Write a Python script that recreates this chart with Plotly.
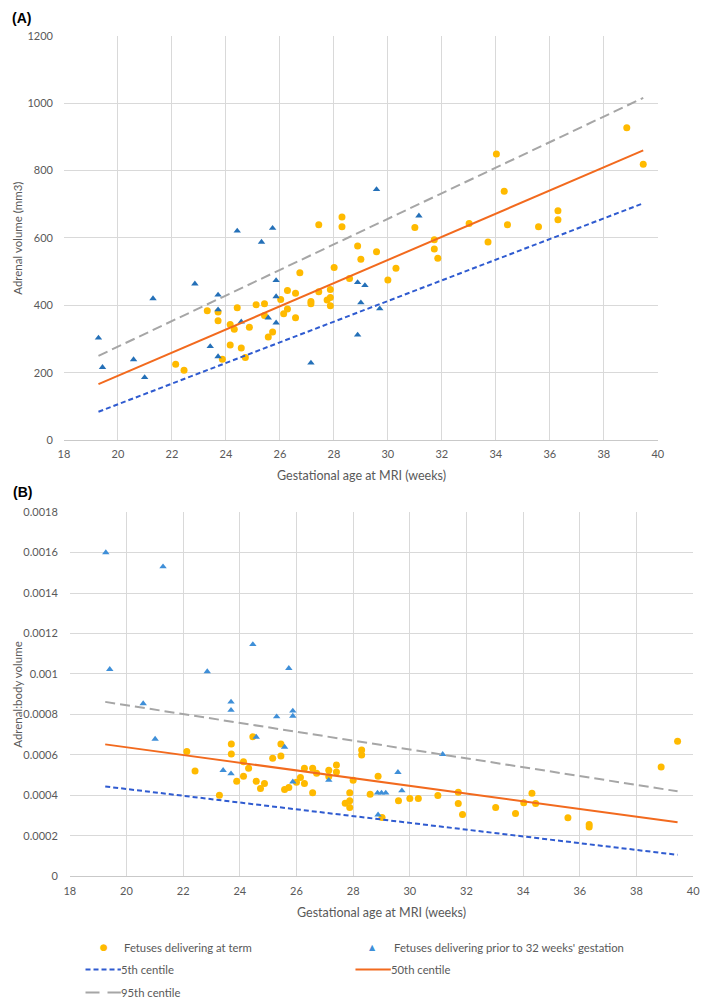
import plotly.graph_objects as go

# ---------------- data ----------------
# Panel A: adrenal volume (mm3)
a_term_x = [22.14, 22.45, 23.31, 23.71, 23.71, 23.87, 24.16, 24.16, 24.31, 24.42, 24.57, 24.72, 24.87, 25.12, 25.43,
            25.43, 25.57, 25.73, 26.03, 26.14, 26.28, 26.28, 26.58, 26.58, 26.74, 27.15, 27.15, 27.44, 27.44, 27.75,
            27.87, 27.87, 27.87, 28.01, 28.30, 28.30, 28.58, 28.88, 29.00, 29.58, 30.00, 30.30, 31.00, 31.72, 31.72,
            31.85, 33.01, 33.71, 34.02, 34.31, 34.43, 35.58, 36.30, 36.30, 38.85, 39.46]
a_term_y = [225, 207, 384, 380, 354, 240, 343, 282, 329, 393, 273, 245, 335, 402, 405,
            370, 306, 321, 417, 375, 444, 389, 436, 363, 497, 411, 405, 440, 639, 416,
            447, 423, 399, 512, 662, 633, 480, 576, 537, 559, 475, 510, 631, 567, 595,
            540, 643, 588, 849, 739, 639, 633, 681, 654, 927, 819]
a_prior_x = [19.28, 19.43, 20.58, 20.99, 21.30, 22.85, 23.42, 23.71, 23.71, 23.71, 24.57, 24.42, 25.32,
             25.73, 25.86, 25.86, 25.57, 25.86, 27.15, 28.88, 29.15, 29.00, 29.70, 28.88, 29.58, 31.15]
a_prior_y = [303, 216, 239, 186, 420, 464, 278, 431, 387, 248, 351, 621, 588,
             629, 474, 426, 363, 348, 229, 468, 459, 408, 390, 312, 744, 666]
a_centile_x = [19.28, 39.46]
a_p5 = [84, 703]
a_p50 = [166, 860]
a_p95 = [250, 1016]

# Panel B: adrenal:body volume
b_term_x = [22.13, 22.42, 23.28, 23.70, 23.70, 23.89, 24.13, 24.13, 24.31, 24.46, 24.58, 24.73, 24.87, 25.16, 25.45,
            25.45, 25.58, 25.73, 26.00, 26.14, 26.28, 26.28, 26.57, 26.57, 26.71, 27.14, 27.14, 27.41, 27.41, 27.72,
            27.88, 27.88, 27.88, 28.00, 28.30, 28.30, 28.60, 28.88, 29.02, 29.60, 30.00, 30.30, 30.99, 31.71, 31.71,
            31.86, 33.03, 33.73, 34.02, 34.31, 34.44, 35.58, 36.33, 36.33, 38.87, 39.45]
b_term_y = [0.000617, 0.000520, 0.000400, 0.000654, 0.000605, 0.000470, 0.000566, 0.000495, 0.000534, 0.000690,
            0.000470, 0.000434, 0.000459, 0.000584, 0.000654, 0.000594, 0.000429, 0.000439, 0.000465, 0.000488,
            0.000534, 0.000459, 0.000534, 0.000413, 0.000509, 0.000524, 0.000493, 0.000550, 0.000516, 0.000361,
            0.000413, 0.000374, 0.000340, 0.000475, 0.000624, 0.000600, 0.000405, 0.000495, 0.000291, 0.000374,
            0.000385, 0.000385, 0.000399, 0.000415, 0.000360, 0.000306, 0.000340, 0.000311, 0.000364, 0.000410,
            0.000360, 0.000290, 0.000256, 0.000244, 0.000540, 0.000668]
b_prior_x = [19.27, 19.41, 21.29, 22.85, 24.46, 25.73, 20.59, 23.69, 23.69, 25.87, 25.87, 25.30, 21.01,
             24.58, 25.58, 23.41, 23.69, 25.87, 27.14, 29.58, 28.86, 29.00, 29.15, 29.72, 28.88, 31.16]
b_prior_y = [0.00160, 0.001023, 0.00153, 0.001012, 0.001146, 0.001028, 0.000854, 0.000862, 0.000821,
             0.000817, 0.000792, 0.000789, 0.000678, 0.000688, 0.000639, 0.000524, 0.000507, 0.000467,
             0.000475, 0.000514, 0.000412, 0.000412, 0.000412, 0.000423, 0.000304, 0.000603]
b_centile_x = [19.25, 39.45]
b_p5 = [0.000444, 0.000106]
b_p50 = [0.000652, 0.000267]
b_p95 = [0.000862, 0.000420]

x_ticks = [18, 20, 22, 24, 26, 28, 30, 32, 34, 36, 38, 40]
a_y_ticks = [0, 200, 400, 600, 800, 1000, 1200]
b_y_ticks = [0, 0.0002, 0.0004, 0.0006, 0.0008, 0.001, 0.0012, 0.0014, 0.0016, 0.0018]
b_y_ticktext = ["0", "0.0002", "0.0004", "0.0006", "0.0008", "0.001", "0.0012", "0.0014", "0.0016", "0.0018"]

legend_labels = ["Fetuses delivering at term", "Fetuses delivering prior to 32 weeks' gestation",
                 "5th centile", "50th centile", "95th centile"]
x_title = "Gestational age at MRI (weeks)"

# ---------------- style ----------------
W, H = 709, 1005
ORANGE = "#FFBA00"
BLUE_A = "#2470B8"
BLUE_B = "#3F8FD8"
C_P5 = "#2F5BD0"
C_P50 = "#F26A1E"
C_P95 = "#A6A6A6"
GRID = "#D9D9D9"
TXT = "#595959"
FONT = "Lato"


def px(x):
    return x / W


def py(y):
    return 1 - y / H


fig = go.Figure()

def add_panel(xa, ya, tx, ty, prx, pry, cx, p5, p50, p95, blue):
    fig.add_trace(go.Scatter(x=tx, y=ty, mode="markers", xaxis=xa, yaxis=ya,
                             marker=dict(color=ORANGE, size=7, symbol="circle", line=dict(width=0)),
                             showlegend=False))
    fig.add_trace(go.Scatter(x=prx, y=pry, mode="markers", xaxis=xa, yaxis=ya,
                             marker=dict(color=blue, size=6.5, symbol="triangle-up", line=dict(width=0)),
                             showlegend=False))
    fig.add_trace(go.Scatter(x=cx, y=p5, mode="lines", xaxis=xa, yaxis=ya,
                             line=dict(color=C_P5, width=2, dash="5px,3px"), showlegend=False))
    fig.add_trace(go.Scatter(x=cx, y=p50, mode="lines", xaxis=xa, yaxis=ya,
                             line=dict(color=C_P50, width=2), showlegend=False))
    fig.add_trace(go.Scatter(x=cx, y=p95, mode="lines", xaxis=xa, yaxis=ya,
                             line=dict(color=C_P95, width=2, dash="10px,5px"), showlegend=False))


add_panel("x", "y", a_term_x, a_term_y, a_prior_x, a_prior_y, a_centile_x, a_p5, a_p50, a_p95, BLUE_A)
add_panel("x2", "y2", b_term_x, b_term_y, b_prior_x, b_prior_y, b_centile_x, b_p5, b_p50, b_p95, BLUE_B)

tickfont = dict(family=FONT, size=11, color=TXT)
common_x = dict(range=[18, 40], tickvals=x_ticks, showgrid=True, gridcolor=GRID, gridwidth=1,
                showline=True, linecolor="#C9C9C9", linewidth=1, mirror=False, zeroline=False,
                ticks="", tickfont=tickfont, ticklabelstandoff=4, ticklabeloverflow="allow",
                fixedrange=True)
common_y = dict(showgrid=True, gridcolor=GRID, gridwidth=1, showline=False, zeroline=False,
                ticks="", tickfont=tickfont, ticklabeloverflow="allow", fixedrange=True)

fig.update_layout(
    width=W, height=H,
    margin=dict(l=0, r=0, t=0, b=0),
    paper_bgcolor="white", plot_bgcolor="white",
    showlegend=False,
    xaxis=dict(domain=[px(59), px(664)], anchor="y", **common_x),
    yaxis=dict(domain=[py(438.7), py(29.3)], anchor="x", range=[0, 1200], tickvals=a_y_ticks,
               ticklabelstandoff=10, **common_y),
    xaxis2=dict(domain=[px(65), px(700)], anchor="y2", **common_x),
    yaxis2=dict(domain=[py(880.7), py(511.7)], anchor="x2", range=[0, 0.0018], tickvals=b_y_ticks,
                ticktext=b_y_ticktext, ticklabelstandoff=11, **common_y),
)

ann = []
# panel letters
ann.append(dict(text="<b>(A)</b>", x=px(4), y=py(11), xanchor="left", yanchor="middle",
                font=dict(family="Liberation Sans", size=14, color="black")))
ann.append(dict(text="<b>(B)</b>", x=px(5), y=py(491.7), xanchor="left", yanchor="middle",
                font=dict(family="Liberation Sans", size=14, color="black")))
# axis titles
ytfont = dict(family=FONT, size=11.5, color=TXT)
xtfont = dict(family=FONT, size=12.5, color=TXT)
ann.append(dict(text="Adrenal volume (mm3)", x=px(12), y=py(234), textangle=-90,
                xanchor="center", yanchor="middle", font=ytfont))
ann.append(dict(text="Adrenal:body volume", x=px(12), y=py(696), textangle=-90,
                xanchor="center", yanchor="middle", font=ytfont))
ann.append(dict(text=x_title, x=px(361.7), y=py(475), xanchor="center", yanchor="middle", font=xtfont))
ann.append(dict(text=x_title, x=px(382.8), y=py(917), xanchor="center", yanchor="middle", font=xtfont))

# legend
lgfont = dict(family=FONT, size=11.3, color=TXT)
ann.append(dict(text="●", x=px(100), y=py(952.7), xanchor="center", yanchor="middle",
                font=dict(family="DejaVu Sans", size=9, color=ORANGE)))
ann.append(dict(text=legend_labels[0], x=px(118), y=py(952.7), xanchor="left", yanchor="middle", font=lgfont))
ann.append(dict(text="▲", x=px(373), y=py(952.7), xanchor="center", yanchor="middle",
                font=dict(family="DejaVu Sans", size=8, color=BLUE_B)))
ann.append(dict(text=legend_labels[1], x=px(393), y=py(952.7), xanchor="left", yanchor="middle", font=lgfont))
ann.append(dict(text=legend_labels[2], x=px(115), y=py(975), xanchor="left", yanchor="middle", font=lgfont))
ann.append(dict(text=legend_labels[3], x=px(390), y=py(975), xanchor="left", yanchor="middle", font=lgfont))
ann.append(dict(text=legend_labels[4], x=px(115), y=py(998.3), xanchor="left", yanchor="middle", font=lgfont))
for a in ann:
    a.update(xref="paper", yref="paper", showarrow=False)
fig.update_layout(annotations=ann)

shapes = [
    dict(type="line", x0=px(81), x1=px(117), y0=py(975), y1=py(975), line=dict(color=C_P5, width=2, dash="5px,3px")),
    dict(type="line", x0=px(356), x1=px(392), y0=py(975), y1=py(975), line=dict(color=C_P50, width=2)),
    dict(type="line", x0=px(81), x1=px(117), y0=py(998.3), y1=py(998.3), line=dict(color=C_P95, width=2, dash="14px,8px")),
]
for s in shapes:
    s.update(xref="paper", yref="paper")
fig.update_layout(shapes=shapes)

fig.write_html("out.html",
               config={"displayModeBar": False},
               post_script="document.body.style.margin='0';document.body.style.overflow='hidden';")
